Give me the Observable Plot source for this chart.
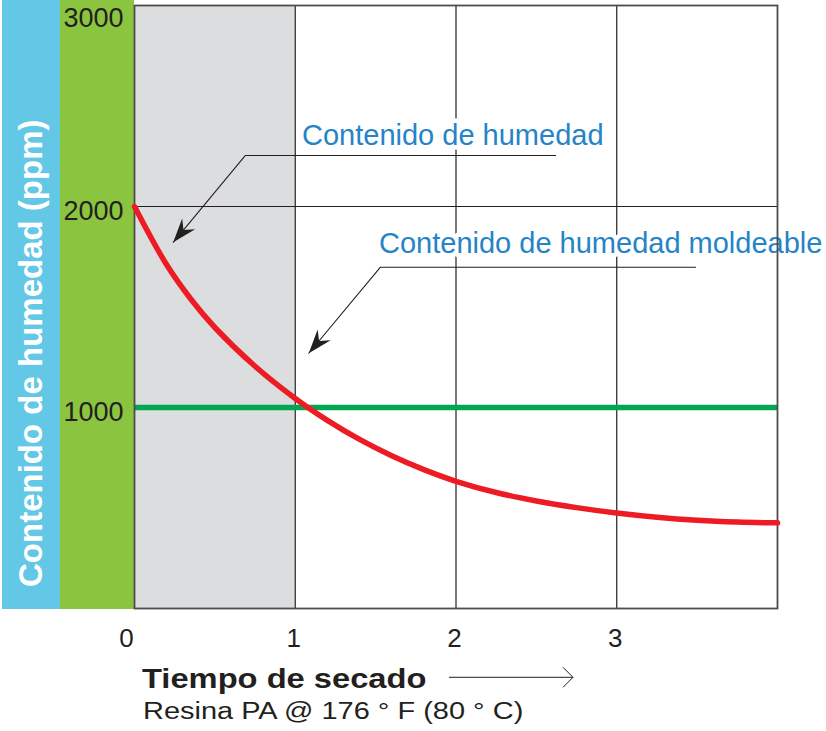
<!DOCTYPE html>
<html>
<head>
<meta charset="utf-8">
<script src="https://cdn.jsdelivr.net/npm/d3@7"></script>
<script src="https://cdn.jsdelivr.net/npm/@observablehq/plot@0.6"></script>
<style>
  html, body { margin: 0; padding: 0; background: #fff; }
  #wrap {
    position: relative; width: 826px; height: 731px; overflow: hidden;
    background: linear-gradient(to right, #fff 0 2px, #63c8e6 2px 60px, #8bc53f 60px 134px, transparent 134px) no-repeat 0 0 / 826px 609px;
  }
  #chart svg { display: block; }
  .xt { position: absolute; white-space: nowrap; line-height: 1; color: #231f20; transform-origin: 0 0; }
  #xtitle { left: 141.5px; top: 663.8px; font: bold 27px "Liberation Sans", Arial, sans-serif; transform: scaleX(1.21); }
  #xsub { left: 142.8px; top: 698.4px; font: 23.5px "Liberation Sans", Arial, sans-serif; transform: scaleX(1.232); }
  #xarrow { position: absolute; left: 448px; top: 665px; }
</style>
</head>
<body>
<div id="wrap">
  <div id="chart"></div>
  <div class="xt" id="xtitle"></div>
  <div class="xt" id="xsub"></div>
  <svg id="xarrow" width="130" height="26"><line x1="1" y1="12.3" x2="125" y2="12.3" stroke="#231f20" stroke-width="1"/><polyline points="115,2.3 125,12.3 115,22.3" fill="none" stroke="#231f20" stroke-width="1"/></svg>
</div>
<script>
// ---- data ----
const dryTime = [0, 0.2, 0.35, 0.5, 0.75, 1.0, 1.2, 1.4, 1.6, 1.8, 2.0, 2.25, 2.5, 2.75, 3.0, 3.25, 3.5, 3.75, 4.0];
const moisture = [2000, 1710, 1540, 1398, 1205, 1045, 936, 841, 760, 691, 633, 577, 535, 502, 475, 454, 439, 430, 426];
const moldableMoisture = 1000;
const shadeRange = [0, 1];
const xTicks = [0, 1, 2, 3];
const yTicks = [1000, 2000, 3000];
const yLabel = "Contenido de humedad (ppm)";
const xTitle = "Tiempo de secado";
const xSubtitle = "Resina PA @ 176 ° F (80 ° C)";
const annLabels = ["Contenido de humedad", "Contenido de humedad moldeable"];
const annLabelX = [1.042, 1.521];
const annLabelY = [2305, 1768];
const leaderX = [[2.619, 0.69, 0.241], [3.49, 1.53, 1.084]];
const leaderY = [[2254, 2254, 1822], [1698, 1698, 1270]];

// ---- derived tables ----
const curve = dryTime.map((x, i) => ({x, y: moisture[i]}));
const anns = annLabels.map((t, i) => ({t, x: annLabelX[i], y: annLabelY[i]}));
const leaders = leaderX.flatMap((xs, k) => xs.map((x, j) => ({k, x, y: leaderY[k][j]})));
const tips = leaderX.map((xs, k) => ({x: xs[xs.length - 1], y: leaderY[k][xs.length - 1]}));

const ink = "#231f20";
const arrowHead = {
  draw(ctx) {
    const a = 130 * Math.PI / 180, c = Math.cos(a), s = Math.sin(a);
    const pts = [[0, 0], [-24, -8.5], [-16, 0], [-24, 8.5]];
    pts.forEach(([px, py], i) => {
      const X = px * c - py * s, Y = px * s + py * c;
      if (i) ctx.lineTo(X, Y); else ctx.moveTo(X, Y);
    });
    ctx.closePath();
  }
};

const plot = Plot.plot({
  width: 826, height: 655,
  marginLeft: 134, marginRight: 49, marginTop: 5, marginBottom: 47,
  x: {domain: [0, 4], axis: null},
  y: {domain: [0, 3000], axis: null},
  style: {background: "transparent", overflow: "visible"},
  marks: [
    Plot.rect([shadeRange], {x1: d => d[0], x2: d => d[1], fill: "#dcdddf"}),
    Plot.ruleX(xTicks.filter(d => d > 0), {stroke: ink, strokeWidth: 1.2}),
    Plot.ruleY(yTicks.filter(d => d < 3000), {stroke: ink, strokeWidth: 1.2}),
    Plot.ruleY([moldableMoisture], {stroke: "#00a651", strokeWidth: 5.5}),
    Plot.text(anns, {x: "x", y: "y", text: "t", textAnchor: "start", lineAnchor: "bottom",
      fontSize: 29, fontFamily: "Liberation Sans, Arial, sans-serif", fill: "#2584c6",
      stroke: "white", strokeWidth: 9}),
    Plot.frame({stroke: "#4d4d4d", strokeWidth: 1.8}),
    Plot.line(curve, {x: "x", y: "y", curve: "catmull-rom", stroke: "#ed1c24", strokeWidth: 5.5, strokeLinecap: "round"}),
    Plot.line(leaders, {x: "x", y: "y", z: "k", stroke: ink, strokeWidth: 1.1}),
    Plot.dot(tips, {x: "x", y: "y", symbol: arrowHead, fill: ink, stroke: "none"}),
    // y tick labels
    Plot.text(yTicks.filter(d => d < 3000), {y: d => d, text: d => String(d), frameAnchor: "left",
      textAnchor: "end", lineAnchor: "bottom", dx: -11, dy: 13, fontSize: 27,
      fontFamily: "Liberation Sans, Arial, sans-serif", fill: ink}),
    Plot.text(yTicks.filter(d => d === 3000), {y: d => d, text: d => String(d), frameAnchor: "left",
      textAnchor: "end", lineAnchor: "bottom", dx: -11, dy: 21, fontSize: 27,
      fontFamily: "Liberation Sans, Arial, sans-serif", fill: ink}),
    // x tick labels
    Plot.text(xTicks.filter(d => d > 0), {x: d => d, text: d => String(d), frameAnchor: "bottom",
      lineAnchor: "bottom", dx: -1.5, dy: 38.7, fontSize: 26,
      fontFamily: "Liberation Sans, Arial, sans-serif", fill: ink}),
    Plot.text(xTicks.filter(d => d === 0), {x: d => d, text: d => String(d), frameAnchor: "bottom",
      lineAnchor: "bottom", dx: -8, dy: 38.7, fontSize: 26,
      fontFamily: "Liberation Sans, Arial, sans-serif", fill: ink}),
    // y axis title
    Plot.text([yLabel], {frameAnchor: "left", y: () => 1270, text: d => d, rotate: -90,
      dx: -102.8, textAnchor: "middle", lineAnchor: "middle", fontSize: 33, fontWeight: "bold",
      fontFamily: "Liberation Sans, Arial, sans-serif", fill: "white"})
  ]
});
document.getElementById("chart").append(plot);
document.getElementById("xtitle").textContent = xTitle;
document.getElementById("xsub").textContent = xSubtitle;
</script>
</body>
</html>
